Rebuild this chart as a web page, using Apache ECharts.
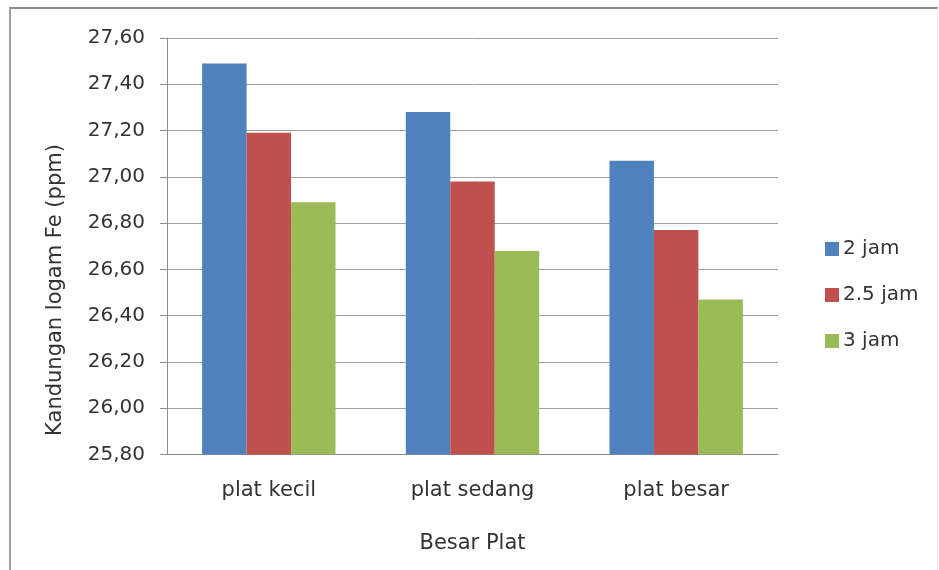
<!DOCTYPE html>
<html>
<head>
<meta charset="utf-8">
<script src="https://cdn.jsdelivr.net/npm/echarts@6/dist/echarts.min.js"></script>
<style>
  html, body { margin: 0; padding: 0; background: #fff; }
  #frame { position: absolute; left: 9px; top: 7px; width: 929px; height: 570px;
           border-top: 2px solid #8c8c8c; border-left: 2px solid #a0a0a0; border-right: 1px solid #ececec; box-sizing: border-box; }
  #chart { position: absolute; left: 0; top: 0; width: 939px; height: 570px; }
</style>
</head>
<body>
<div id="frame"></div>
<div id="chart"></div>
<script>
// Fe content per plate size and contact time
const categories = ['plat kecil', 'plat sedang', 'plat besar'];
const seriesNames = ['2 jam', '2.5 jam', '3 jam'];
const jam2 = [27.49, 27.28, 27.07];
const jam25 = [27.19, 26.98, 26.77];
const jam3 = [26.89, 26.68, 26.47];
const yTicks = [25.8, 26.0, 26.2, 26.4, 26.6, 26.8, 27.0, 27.2, 27.4, 27.6];
const yTitle = 'Kandungan logam Fe (ppm)';
const xTitle = 'Besar Plat';

const colors = ['#4F81BD', '#C0504D', '#9BBB59'];
const font = '"DejaVu Sans", sans-serif';
const txt = '#333333';

const chart = echarts.init(document.getElementById('chart'), null, { renderer: 'canvas' });
chart.setOption({
  backgroundColor: 'transparent',
  animation: false,
  color: colors,
  grid: { left: 167, right: 161, top: 38, bottom: 115.5, containLabel: false },
  legend: {
    orient: 'vertical',
    left: 820,
    top: 234,
    itemWidth: 14,
    itemHeight: 14,
    itemGap: 26,
    icon: 'rect',
    textStyle: { fontFamily: font, fontSize: 20, color: txt, padding: [0, 0, 0, -1] },
    data: seriesNames
  },
  graphic: [{
    type: 'text',
    x: 56,
    y: 290,
    rotation: Math.PI / 2,
    style: {
      text: yTitle, fontFamily: font, fontSize: 21, fill: txt,
      align: 'center', verticalAlign: 'middle'
    }
  }],
  xAxis: {
    type: 'category',
    data: categories,
    name: xTitle,
    nameLocation: 'middle',
    nameGap: 79,
    nameTextStyle: { fontFamily: font, fontSize: 21, color: txt },
    axisLine: { lineStyle: { color: '#8c8c8c', width: 1 } },
    axisTick: { show: false },
    axisLabel: { fontFamily: font, fontSize: 21, color: txt, margin: 26 }
  },
  yAxis: {
    type: 'value',
    min: yTicks[0],
    max: yTicks[yTicks.length - 1],
    interval: 0.2,
    axisLine: { show: true, lineStyle: { color: '#8c8c8c', width: 1 } },
    axisTick: { show: true, length: 7, inside: false, lineStyle: { color: '#8c8c8c' } },
    axisLabel: {
      fontFamily: font, fontSize: 20, color: txt, margin: 22,
      formatter: v => v.toFixed(2).replace('.', ',')
    },
    splitLine: { lineStyle: { color: '#a0a0a0', width: 1 } }
  },
  series: [
    { name: seriesNames[0], type: 'bar', data: jam2, barGap: '0%', barCategoryGap: '34.5%' },
    { name: seriesNames[1], type: 'bar', data: jam25, barGap: '0%', barCategoryGap: '34.5%' },
    { name: seriesNames[2], type: 'bar', data: jam3, barGap: '0%', barCategoryGap: '34.5%' }
  ]
});
</script>
</body>
</html>
